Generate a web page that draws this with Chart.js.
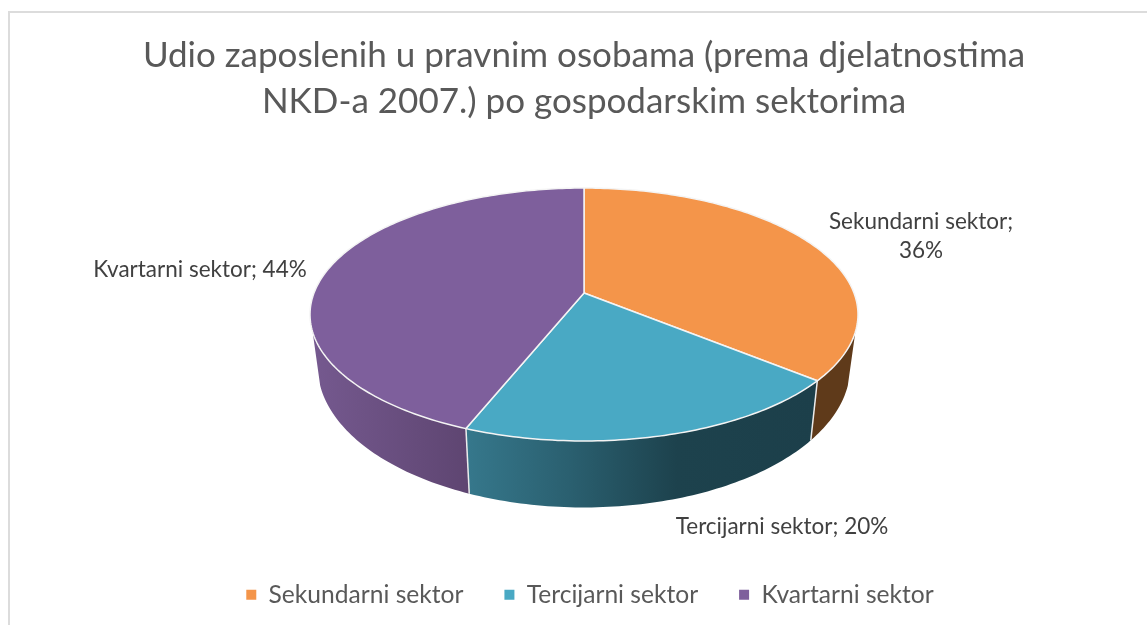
<!DOCTYPE html>
<html>
<head>
<meta charset="utf-8">
<title>Udio zaposlenih</title>
<script src="https://cdn.jsdelivr.net/npm/chart.js@4"></script>
<style>
    html, body { margin: 0; padding: 0; background: #fff; overflow: hidden; }
    #frame { position: absolute; left: 8px; top: 11px; width: 1139px; height: 614px; box-sizing: border-box; border-left: 2px solid #dcdcdc; border-top: 2px solid #dcdcdc; }
    #wrap { position: absolute; left: 21px; top: 0; width: 1126px; height: 625px; }
</style>
</head>
<body>
<div id="frame"></div>
<div id="wrap"><canvas id="chart" width="1126" height="625"></canvas></div>
<script>
const titleLines = ['Udio zaposlenih u pravnim osobama (prema djelatnostima', 'NKD-a 2007.) po gospodarskim sektorima'];
const categories = ['Sekundarni sektor', 'Tercijarni sektor', 'Kvartarni sektor'];
const shares = [36, 20, 44];
const topColors = ['#F4954A', '#49A9C4', '#7E5F9C'];

// wall shading, left to right
const wallStops = [
    [[0, '#5F3A1A'], [1, '#5F3A1A']],
    [[0, '#36788C'], [0.3, '#2A5F6F'], [0.6, '#1D424D'], [1, '#1C3F4A']],
    [[0, '#75598F'], [1, '#5E4571']]
];

// tilted disc: top rim and bottom rim, same vanishing term
const persp = 0.17;
const rim = { ax: 270, topY: 293, topB: 122.8, botX: 0.972, botY: 342.4, botB: 137 };
const wallEdge = 0.305; // walls stop here, the sides of the disc run straight

function topPoint(cx, a) {
    const u = Math.cos(a), v = Math.sin(a), w = 1 - persp * v;
    return [cx + rim.ax * u / w, rim.topY + rim.topB * v / w];
}
function botPoint(cx, a) {
    const u = Math.cos(a), v = Math.sin(a), w = 1 - persp * v;
    return [cx + rim.ax * rim.botX * u / w, rim.botY + rim.botB * v / w];
}

const pie3d = {
    id: 'pie3d',
    afterLayout(chart) {
        chart.legend.left += 6;
        chart.legend.right += 6;
        chart.legend.top -= 8;
        chart.legend.bottom -= 8;
    },
    beforeDatasetsDraw(chart) {
        const ctx = chart.ctx;
        const arcs = chart.getDatasetMeta(0).data;
        const cx = chart.width / 2;
        const step = Math.PI / 180;

        // walls
        arcs.forEach((arc, i) => {
            const from = Math.max(arc.startAngle, wallEdge);
            const to = Math.min(arc.endAngle, Math.PI - wallEdge);
            if (to <= from) return;
            const upper = [], lower = [];
            for (let a = from; a < to; a += step) {
                upper.push(topPoint(cx, a));
                lower.push(botPoint(cx, a));
            }
            upper.push(topPoint(cx, to));
            lower.push(botPoint(cx, to));
            const xs = upper.concat(lower).map(p => p[0]);
            const g = ctx.createLinearGradient(Math.min(...xs), 0, Math.max(...xs), 0);
            wallStops[i].forEach(s => g.addColorStop(s[0], s[1]));
            ctx.beginPath();
            upper.forEach((p, k) => k ? ctx.lineTo(p[0], p[1]) : ctx.moveTo(p[0], p[1]));
            lower.reverse().forEach(p => ctx.lineTo(p[0], p[1]));
            ctx.closePath();
            ctx.fillStyle = g;
            ctx.fill();
        });

        // joints between walls
        ctx.strokeStyle = '#ECECEC';
        ctx.lineWidth = 1.5;
        arcs.forEach(arc => {
            const a = arc.endAngle;
            if (Math.sin(a) < 0) return;
            const t = topPoint(cx, a), b = botPoint(cx, a);
            ctx.beginPath();
            ctx.moveTo(t[0], t[1]);
            ctx.lineTo(b[0], b[1]);
            ctx.stroke();
        });

        // top faces
        arcs.forEach((arc, i) => {
            ctx.beginPath();
            ctx.moveTo(cx, rim.topY);
            for (let a = arc.startAngle; a < arc.endAngle; a += step) {
                const p = topPoint(cx, a);
                ctx.lineTo(p[0], p[1]);
            }
            const e = topPoint(cx, arc.endAngle);
            ctx.lineTo(e[0], e[1]);
            ctx.closePath();
            ctx.fillStyle = topColors[i];
            ctx.fill();
            ctx.strokeStyle = '#F4F4F4';
            ctx.lineWidth = 1.5;
            ctx.lineJoin = 'round';
            ctx.stroke();
        });

        // data labels
        ctx.fillStyle = '#404040';
        ctx.font = '22.5px Lato';
        ctx.textAlign = 'center';
        ctx.textBaseline = 'middle';
        ctx.fillText(categories[0] + ';', 900, 222);
        ctx.fillText(shares[0] + '%', 900, 251);
        ctx.fillText(categories[1] + '; ' + shares[1] + '%', 761, 527);
        ctx.fillText(categories[2] + '; ' + shares[2] + '%', 179, 270);
        return false;
    }
};

new Chart(document.getElementById('chart'), {
    type: 'pie',
    data: {
        labels: categories,
        datasets: [{
            data: shares,
            backgroundColor: topColors,
            borderWidth: 0
        }]
    },
    plugins: [pie3d],
    options: {
        responsive: false,
        animation: false,
        plugins: {
            title: {
                display: true,
                text: titleLines,
                color: '#595959',
                font: { family: 'Lato', size: 35, weight: 'normal', lineHeight: 1.314 },
                padding: { top: 33, bottom: 10 }
            },
            legend: {
                position: 'bottom',
                labels: {
                    color: '#595959',
                    font: { family: 'Lato', size: 24.6 },
                    boxWidth: 10,
                    boxHeight: 10,
                    padding: 41
                }
            },
            tooltip: { enabled: false }
        }
    }
});
</script>
</body>
</html>
